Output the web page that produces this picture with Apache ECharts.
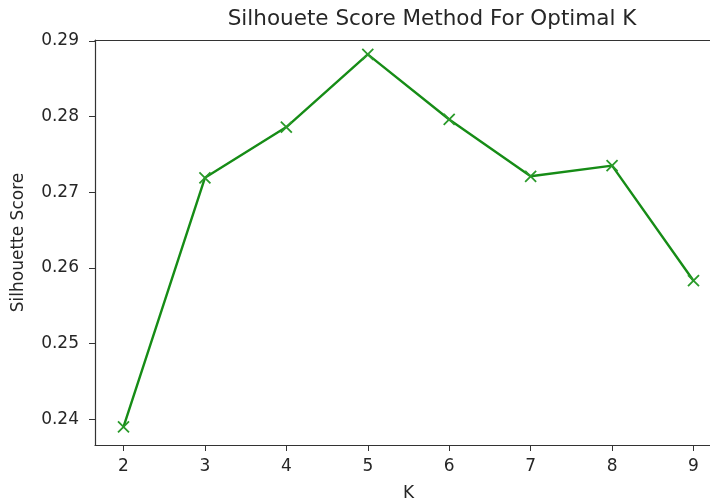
<!DOCTYPE html>
<html>
<head>
<meta charset="utf-8">
<script src="https://cdn.jsdelivr.net/npm/echarts@6/dist/echarts.min.js"></script>
<style>html,body{margin:0;padding:0;background:#fff;}#c{width:710px;height:502px;}</style>
</head>
<body>
<div id="c"></div>
<script>
const kValues = [2, 3, 4, 5, 6, 7, 8, 9];
const silhouetteScores = [0.2390, 0.2719, 0.2786, 0.2882, 0.2796, 0.2721, 0.2735, 0.2583];
const xTicks = [2, 3, 4, 5, 6, 7, 8, 9];
const yTicks = [0.24, 0.25, 0.26, 0.27, 0.28, 0.29];

const chart = echarts.init(document.getElementById('c'), null, {renderer: 'canvas'});
const font = 'DejaVu Sans';
const textColor = '#262626';
const axisColor = '#333';
chart.setOption({
  animation: false,
  backgroundColor: '#fff',
  title: {
    text: 'Silhouete Score Method For Optimal K',
    left: 427, top: 3, textAlign: 'center',
    textStyle: {fontFamily: font, fontSize: 21.5, fontWeight: 'normal', color: textColor}
  },
  grid: {
    left: 95, top: 40, width: 627, height: 405, show: false,
    outerBoundsMode: 'none', containLabel: false
  },
  xAxis: [{
    type: 'value', min: 1.65, max: 9.35,
    name: 'K', nameLocation: 'middle', nameGap: 40,
    nameTextStyle: {fontFamily: font, fontSize: 17, color: textColor},
    axisLine: {show: true, lineStyle: {color: axisColor, width: 1.2}},
    axisTick: {show: true, length: 6, inside: false, customValues: xTicks, lineStyle: {color: axisColor}},
    axisLabel: {customValues: xTicks, fontFamily: font, fontSize: 17, color: textColor, margin: 13},
    splitLine: {show: false}
  }, {
    type: 'value', min: 1.65, max: 9.35, position: 'top',
    axisLine: {show: true, lineStyle: {color: axisColor, width: 1.2}},
    axisTick: {show: false}, axisLabel: {show: false}, splitLine: {show: false}
  }],
  yAxis: {
    type: 'value', min: 0.2366, max: 0.2901,
    name: 'Silhouette Score', nameLocation: 'middle', nameGap: 68,
    nameTextStyle: {fontFamily: font, fontSize: 17, color: textColor},
    axisLine: {show: true, lineStyle: {color: axisColor, width: 1.2}},
    axisTick: {show: true, length: 6, inside: false, customValues: yTicks, lineStyle: {color: axisColor}},
    axisLabel: {customValues: yTicks, fontFamily: font, fontSize: 17, color: textColor, margin: 16,
      formatter: v => v.toFixed(2)},
    splitLine: {show: false}
  },
  series: [{
    type: 'line',
    data: kValues.map((k, i) => [k, silhouetteScores[i]]),
    lineStyle: {color: '#168c16', width: 2.4},
    symbol: 'path://M0,0L10,10M10,0L0,10',
    symbolSize: 11,
    itemStyle: {color: 'rgba(0,0,0,0)', borderColor: '#2a9a2a', borderWidth: 1.8},
    clip: false
  }]
});
</script>
</body>
</html>
